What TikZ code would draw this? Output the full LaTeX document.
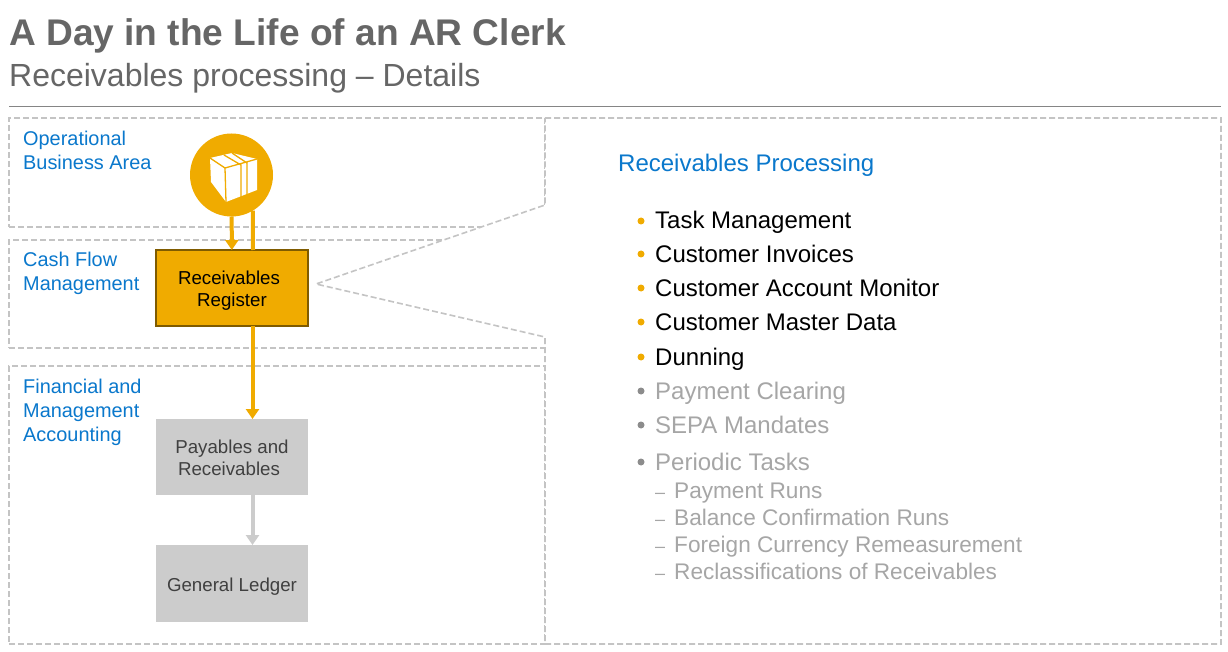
\documentclass[tikz,border=0pt]{standalone}
\usepackage{fontspec}
\setmainfont{Liberation Sans}
\usetikzlibrary{arrows.meta,positioning}
\definecolor{sapgold}{HTML}{F0AB00}
\definecolor{goldedge}{HTML}{7F5B00}
\definecolor{sapblue}{HTML}{0A78CC}
\definecolor{titlegray}{HTML}{666666}
\definecolor{dashgray}{HTML}{C4C4C4}
\definecolor{boxgray}{HTML}{CCCCCC}
\definecolor{mutedgray}{HTML}{A6A6A6}
\tikzset{
	lane/.style={draw=dashgray,line width=1.6pt,dash pattern=on 6pt off 3pt,minimum width=536pt,inner sep=0pt,outer sep=0pt},
	lanetext/.style={text=sapblue,align=left,inner sep=0pt,font=\fontsize{19.9}{24}\selectfont},
	flowbox/.style={minimum width=152pt,minimum height=76pt,inner sep=0pt,outer sep=0pt},
	flowtext/.style={inner sep=0pt,align=center,font=\fontsize{18.7}{22}\selectfont},
	goldbox/.style={flowbox,fill=sapgold,draw=goldedge,line width=1.6pt},
	graybox/.style={flowbox,fill=boxgray},
	goldflow/.style={draw=sapgold,line width=4pt},
	grayflow/.style={draw=boxgray,line width=4pt},
	itemtext/.style={anchor=base west,inner sep=0pt,font=\fontsize{24}{28}\selectfont},
	subtext/.style={anchor=base west,inner sep=0pt,text=mutedgray,font=\fontsize{22.6}{26}\selectfont},
	dot/.style={circle,inner sep=0pt,minimum size=7pt}
}
\begin{document}
\begin{tikzpicture}[x=1pt,y=-1pt,>={Triangle[width=13pt,length=10pt]}]
	\useasboundingbox[fill=white] (0,0) rectangle (1228,652);
	
	% heading
	\node[anchor=base west,inner sep=0pt,text=titlegray,font=\fontsize{37.1}{40}\selectfont\bfseries] (title) at (9,46) {A Day in the Life of an AR Clerk};
	\node[anchor=base west,inner sep=0pt,text=titlegray,font=\fontsize{32}{36}\selectfont] (subtitle) at (9,87) {Receivables processing -- Details};
	\coordinate (ruleL) at (9,107);
	\coordinate (ruleR) at (1221,107);
	\draw[draw=titlegray!80,line width=1pt] (ruleL) -- (ruleR);
	
	% lanes
	\node[lane,minimum height=109pt,anchor=north west] (opArea) at (9,118) {};
	\node[lane,minimum height=108pt] (cashArea) [below=13pt of opArea] {};
	\node[lane,minimum height=278pt] (finArea) [below=18pt of cashArea] {};
	\node[lanetext,anchor=north west] (opText) at ([xshift=14pt,yshift=-13pt]opArea.north west) {Operational\\Business Area};
	\node[lanetext,anchor=north west] (cashText) at ([xshift=14pt,yshift=-12pt]cashArea.north west) {Cash Flow\\Management};
	\node[lanetext,anchor=north west] (finText) at ([xshift=14pt,yshift=-13pt]finArea.north west) {Financial and\\Management\\Accounting};
	
	% flow
	\node[goldbox] (recv) at (232,288) {};
	\node[graybox] (pay) [below=93pt of recv] {};
	\node[graybox,minimum height=77pt] (gl) [below=50pt of pay] {};
	\node[flowtext,text=black] (recvText) at ([yshift=-3pt]recv) {\hspace*{-6pt}Receivables\\Register};
	\node[flowtext,text=black!75] (payText) at ([yshift=-1pt]pay) {Payables and\\\hspace*{-6pt}Receivables};
	\node[flowtext,text=black!75] (glText) at ([yshift=-3pt]gl) {General Ledger};
	\node[circle,fill=sapgold,minimum size=83pt,inner sep=0pt,outer sep=0pt] (pack) at (231.5,175) {};
	
	\path[->] (pack) edge[goldflow] (recv)
		([xshift=20.5pt]recv.south) edge[goldflow] ([xshift=20.5pt]pay.north)
		([xshift=20.5pt]pay.south) edge[grayflow] ([xshift=20.5pt]gl.north);
	\path (pack.-59) edge[goldflow] ([xshift=21pt]recv.north);
	
	% package icon
	\fill[white] (210,158) -- (232,153) -- (257,159) -- (257,190) -- (226,202) -- (211,182) -- cycle;
	\draw[sapgold,line width=1.3pt,line join=round] (210,158) -- (225,168) -- (257,159) (225,168) -- (226,202) (224,155) -- (241,165) -- (241,198) (232,153) -- (247,163) -- (247,196);
	
	% callout
	\coordinate (tip) at (316,284);
	\filldraw[fill=white,draw=dashgray,line width=1.6pt,dash pattern=on 6pt off 3pt] (545,118) -- (1221,118) -- (1221,644) -- (545,644) -- (545,337) -- (tip) -- (545,205) -- cycle;
	
	\node[anchor=base west,inner sep=0pt,text=sapblue,font=\fontsize{24}{28}\selectfont] (head) at (618,172) {Receivables Processing};
	
	\foreach \y/\txt/\nm in {229/Task Management/a,262/Customer Invoices/b,296/Customer Account Monitor/c,330/Customer Master Data/d,365/Dunning/e}{
		\node[itemtext,text=black] (item\nm) at (655,\y) {\txt};
		\node[dot,fill=sapgold] (dot\nm) at ([xshift=-14pt,yshift=8pt]item\nm.base west) {};
	}
	\foreach \y/\txt/\nm in {399/Payment Clearing/f,433/SEPA Mandates/g,470/Periodic Tasks/h}{
		\node[itemtext,text=mutedgray] (item\nm) at (655,\y) {\txt};
		\node[dot,fill=black!45] (dot\nm) at ([xshift=-14pt,yshift=8pt]item\nm.base west) {};
	}
	\foreach \y/\txt/\nm in {498/Payment Runs/i,525/Balance Confirmation Runs/j,552/Foreign Currency Remeasurement/k,579/Reclassifications of Receivables/l}{
		\node[subtext] (item\nm) at (674,\y) {\txt};
		\node[anchor=base west,inner sep=0pt,text=mutedgray,font=\fontsize{18}{20}\selectfont] (dash\nm) at (655,\y) {--};
	}
\end{tikzpicture}
\end{document}
